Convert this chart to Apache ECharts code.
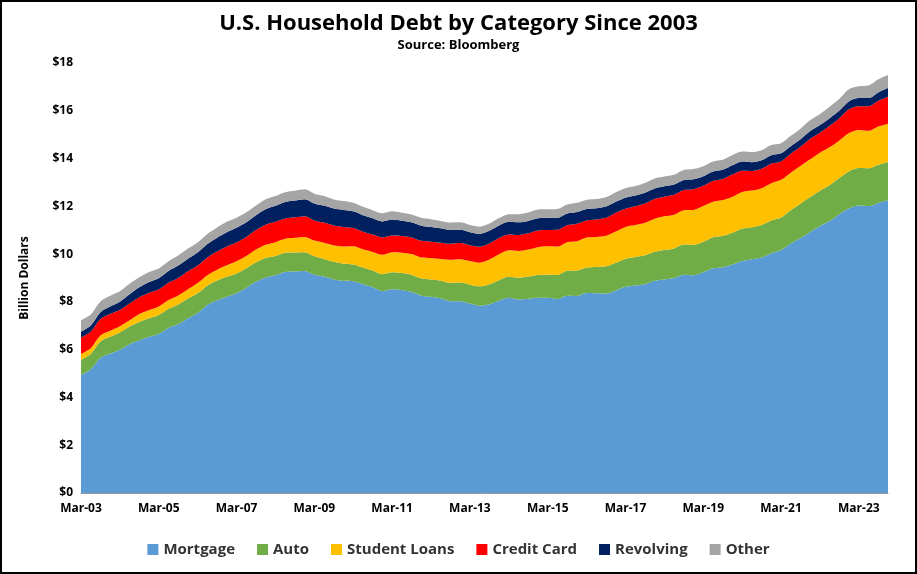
<!DOCTYPE html>
<html lang="en">
<head>
    <meta charset="UTF-8">
    <title>U.S. Household Debt by Category Since 2003</title>
    <style>
        html,body{margin:0;padding:0;background:#fff;}
        #chart{width:913px;height:570px;border:2px solid #000;}
    </style>
</head>
<body>
    <div id="chart"></div>
    <script src="https://cdn.jsdelivr.net/npm/echarts@6/dist/echarts.min.js"></script>
    <script>
        // quarterly, Mar-03 .. Dec-23, trillions
        var mortgage=[4.94,5.18,5.66,5.84, 6.0,6.23,6.39,6.54, 6.67,6.91,7.07,7.32, 7.54,7.87,8.07,8.22,
            8.36,8.59,8.84,9.02, 9.11,9.25,9.27,9.29, 9.14,9.06,8.94,8.88, 8.86,8.74,8.61,8.45,
            8.53,8.50,8.41,8.26, 8.21,8.14,8.03,8.03, 7.93,7.84,7.90,8.05, 8.17,8.10,8.13,8.17,
            8.17,8.12,8.26,8.25, 8.37,8.36,8.35,8.48, 8.63,8.69,8.74,8.88, 8.94,9.00,9.14,9.12,
            9.24,9.41,9.44,9.56, 9.71,9.78,9.86,10.04, 10.16,10.44,10.67,10.93, 11.18,11.39,11.67,11.92,
            12.04,12.01,12.14,12.25];
        var auto=[0.64,0.64,0.68,0.70, 0.72,0.74,0.77,0.77, 0.78,0.80,0.82,0.82, 0.82,0.82,0.83,0.83,
            0.83,0.82,0.82,0.82, 0.81,0.81,0.80,0.79, 0.77,0.74,0.74,0.72, 0.71,0.70,0.70,0.71,
            0.71,0.71,0.72,0.73, 0.73,0.75,0.77,0.78, 0.79,0.81,0.84,0.86, 0.88,0.91,0.93,0.96,
            0.97,1.01,1.04,1.06, 1.07,1.10,1.14,1.16, 1.17,1.19,1.21,1.22, 1.23,1.24,1.26,1.27,
            1.28,1.30,1.32,1.33, 1.35,1.34,1.36,1.37, 1.37,1.40,1.44,1.46, 1.47,1.50,1.52,1.55,
            1.56,1.58,1.60,1.61];
        var student=[0.24,0.24,0.25,0.25, 0.26,0.26,0.33,0.35, 0.36,0.37,0.38,0.39, 0.43,0.43,0.45,0.48,
            0.51,0.51,0.53,0.55, 0.58,0.58,0.61,0.64, 0.66,0.68,0.69,0.72, 0.76,0.76,0.78,0.81,
            0.84,0.85,0.87,0.87, 0.90,0.91,0.96,0.97, 0.99,0.99,1.03,1.08, 1.11,1.12,1.13,1.16,
            1.19,1.19,1.20,1.23, 1.26,1.26,1.28,1.31, 1.34,1.34,1.36,1.38, 1.41,1.41,1.44,1.46,
            1.49,1.48,1.50,1.51, 1.54,1.54,1.54,1.56, 1.58,1.57,1.58,1.58, 1.59,1.59,1.57,1.60,
            1.60,1.57,1.60,1.60];
        var card=[0.69,0.69,0.69,0.70, 0.68,0.70,0.70,0.72, 0.71,0.72,0.73,0.75, 0.73,0.74,0.76,0.79,
            0.79,0.80,0.82,0.84, 0.85,0.85,0.86,0.87, 0.84,0.84,0.83,0.82, 0.76,0.74,0.73,0.73,
            0.70,0.70,0.70,0.70, 0.68,0.68,0.67,0.68, 0.66,0.67,0.67,0.68, 0.66,0.67,0.68,0.70,
            0.68,0.70,0.71,0.73, 0.71,0.73,0.75,0.78, 0.76,0.78,0.81,0.83, 0.82,0.83,0.84,0.87,
            0.85,0.87,0.88,0.93, 0.89,0.82,0.81,0.82, 0.77,0.79,0.80,0.86, 0.84,0.89,0.93,0.99,
            0.99,1.03,1.08,1.13];
        var revolving=[0.24,0.26,0.29,0.32, 0.35,0.39,0.42,0.45, 0.47,0.49,0.52,0.53, 0.55,0.56,0.58,0.60,
            0.61,0.61,0.62,0.65, 0.67,0.69,0.70,0.71, 0.71,0.71,0.71,0.71, 0.70,0.69,0.68,0.67,
            0.67,0.64,0.63,0.63, 0.62,0.60,0.58,0.56, 0.55,0.54,0.54,0.53, 0.53,0.53,0.52,0.51,
            0.51,0.50,0.49,0.49, 0.48,0.47,0.47,0.46, 0.46,0.45,0.45,0.44, 0.44,0.43,0.42,0.41,
            0.40,0.40,0.39,0.39, 0.39,0.37,0.36,0.35, 0.34,0.32,0.32,0.32, 0.32,0.32,0.32,0.34,
            0.34,0.34,0.35,0.36];
        var other=[0.48,0.46,0.45,0.45, 0.44,0.44,0.42,0.42, 0.41,0.41,0.42,0.42, 0.42,0.42,0.42,0.43,
            0.42,0.42,0.41,0.42, 0.41,0.41,0.41,0.41, 0.41,0.40,0.38,0.37, 0.36,0.35,0.34,0.34,
            0.34,0.33,0.33,0.33, 0.32,0.31,0.31,0.31, 0.30,0.30,0.30,0.31, 0.32,0.34,0.35,0.37,
            0.36,0.37,0.38,0.39, 0.39,0.39,0.39,0.40, 0.40,0.40,0.41,0.42, 0.41,0.41,0.42,0.43,
            0.42,0.42,0.42,0.43, 0.42,0.42,0.42,0.43, 0.42,0.43,0.44,0.46, 0.47,0.48,0.49,0.51,
            0.50,0.53,0.55,0.55];

        var months=['Mar','Jun','Sep','Dec'];
        var dates=[];
        for(var y=3;y<=23;y++){
            for(var q=0;q<4;q++){
                dates.push(months[q]+'-'+(y<10?'0'+y:y));
            }
        }

        var series=[
            {name:'Mortgage',data:mortgage,color:'#5B9BD5'},
            {name:'Auto',data:auto,color:'#70AD47'},
            {name:'Student Loans',data:student,color:'#FFC000'},
            {name:'Credit Card',data:card,color:'#FF0000'},
            {name:'Revolving',data:revolving,color:'#002060'},
            {name:'Other',data:other,color:'#A5A5A5'}
        ].map(function(s){
            return {
                name:s.name,type:'line',stack:'total',data:s.data,
                symbol:'none',smooth:0.3,
                lineStyle:{width:0},
                itemStyle:{color:s.color},
                areaStyle:{color:s.color,opacity:1}
            };
        });

        var font='"Open Sans", "Liberation Sans", sans-serif';
        var myChart=echarts.init(document.getElementById('chart'));
        myChart.setOption({
            animation:false,
            textStyle:{fontFamily:font},
            title:{
                text:'U.S. Household Debt by Category Since 2003',
                subtext:'Source: Bloomberg',
                left:'center',top:6,itemGap:4,
                textStyle:{fontSize:22,fontWeight:'bold',color:'#000',fontFamily:font},
                subtextStyle:{fontSize:13,fontWeight:'bold',color:'#000',fontFamily:font}
            },
            legend:{
                bottom:10,left:'center',itemWidth:11,itemHeight:11,itemGap:22,
                icon:'rect',
                textStyle:{fontSize:15,fontWeight:'bold',color:'#333'}
            },
            grid:{left:79,right:27,top:61,bottom:79},
            xAxis:{
                type:'category',data:dates,boundaryGap:false,
                axisLine:{lineStyle:{color:'#999'}},
                axisTick:{show:false},
                axisLabel:{interval:7,color:'#000',fontWeight:'bold',fontSize:12,margin:10}
            },
            yAxis:{
                type:'value',min:0,max:18,interval:2,
                name:'Billion Dollars',nameLocation:'middle',nameGap:50,
                nameTextStyle:{fontWeight:'bold',fontSize:12,color:'#000'},
                splitLine:{show:false},
                axisLine:{show:false},
                axisLabel:{formatter:'${value}',color:'#000',fontWeight:'bold',fontSize:12}
            },
            series:series
        });
    </script>
</body>
</html>
